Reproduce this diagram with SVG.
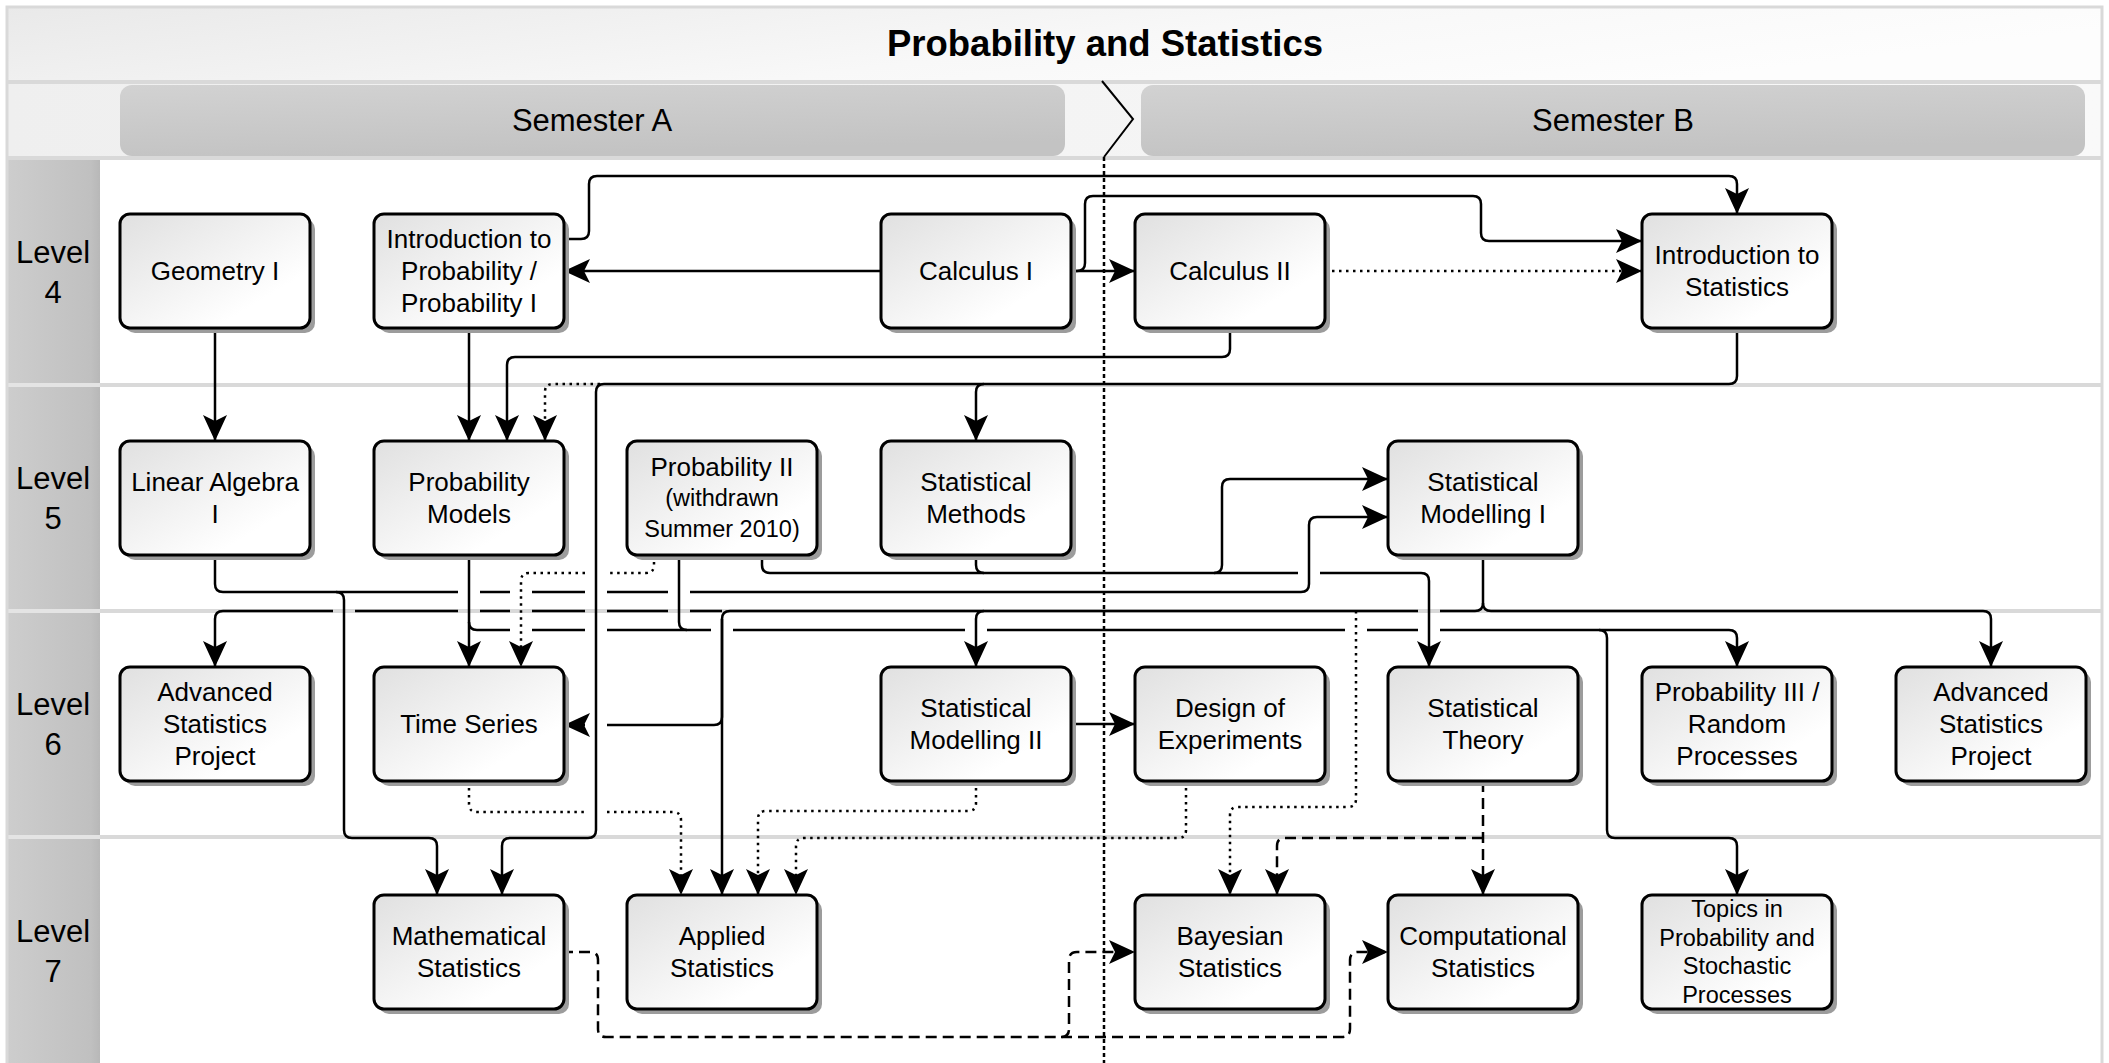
<svg xmlns="http://www.w3.org/2000/svg" width="2109" height="1063" viewBox="0 0 2109 1063">
<defs>
<linearGradient id="gBox" x1="0" y1="0" x2="1" y2="1"><stop offset="0" stop-color="#e0e0e0"/><stop offset="0.75" stop-color="#ffffff"/></linearGradient>
<linearGradient id="gTitle" x1="0" y1="0" x2="1" y2="0.3"><stop offset="0" stop-color="#e9e9e9"/><stop offset="0.6" stop-color="#f8f8f8"/><stop offset="1" stop-color="#fdfdfd"/></linearGradient>
<linearGradient id="gSemRow" x1="0" y1="0" x2="1" y2="0"><stop offset="0" stop-color="#efefef"/><stop offset="1" stop-color="#f9f9f9"/></linearGradient>
<linearGradient id="gSem" x1="0" y1="0" x2="0.3" y2="1"><stop offset="0" stop-color="#d2d2d2"/><stop offset="1" stop-color="#c3c3c3"/></linearGradient>
<linearGradient id="gLvl" x1="0" y1="0" x2="1" y2="0"><stop offset="0" stop-color="#cdcdcd"/><stop offset="0.9" stop-color="#c0c0c0"/><stop offset="1" stop-color="#b8b8b8"/></linearGradient>
<marker id="arr" markerUnits="userSpaceOnUse" markerWidth="28" markerHeight="28" viewBox="0 -14 28 28" refX="26" refY="0" orient="auto"><path d="M26,0 L0,-12 L6,0 L0,12 Z" fill="#000"/></marker>
</defs>
<style>
.box{fill:url(#gBox);stroke:#000;stroke-width:3}
.sh{fill:#9c9c9c}
.t{font-family:"Liberation Sans",Arial,sans-serif;font-size:26px;text-anchor:middle;fill:#000}
.sm{font-size:23.5px}
.lv{font-family:"Liberation Sans",Arial,sans-serif;font-size:31px;text-anchor:middle;fill:#000}
.sep{stroke:#d9d9d9;stroke-width:4;fill:none}
.c{fill:none;stroke:#000;stroke-width:2.5}
.a{marker-end:url(#arr)}
.dot{stroke-dasharray:2.5 4.5}
.dash{stroke-dasharray:11 6}
</style>
<rect x="0" y="0" width="2109" height="1063" fill="#fff"/>
<g id="frame">
<rect x="7" y="7" width="2095" height="75" fill="url(#gTitle)"/>
<rect x="7" y="83" width="2095" height="75" fill="url(#gSemRow)"/>
<rect x="120" y="85" width="945" height="71" rx="12" fill="url(#gSem)"/>
<rect x="1141" y="85" width="944" height="71" rx="12" fill="url(#gSem)"/>
<rect x="7" y="159" width="93" height="225" fill="url(#gLvl)"/>
<rect x="7" y="387" width="93" height="222" fill="url(#gLvl)"/>
<rect x="7" y="613" width="93" height="222" fill="url(#gLvl)"/>
<rect x="7" y="839" width="93" height="224" fill="url(#gLvl)"/>
<path class="sep" d="M7,82 H2102 M7,158 H2102 M100,385 H2102 M100,611 H2102 M100,837 H2102"/>
<path d="M7,385 H100 M7,611 H100 M7,837 H100" stroke="#e4e4e4" stroke-width="4"/>
<rect x="7" y="7" width="2095" height="1060" fill="none" stroke="#d9d9d9" stroke-width="3"/>
<text x="1105" y="56" font-family="Liberation Sans,Arial,sans-serif" font-size="36.5" font-weight="bold" text-anchor="middle">Probability and Statistics</text>
<text class="lv" x="592" y="131">Semester A</text>
<text class="lv" x="1613" y="131">Semester B</text>
<text class="lv"><tspan x="53" y="263">Level</tspan><tspan x="53" y="303">4</tspan></text>
<text class="lv"><tspan x="53" y="489">Level</tspan><tspan x="53" y="529">5</tspan></text>
<text class="lv"><tspan x="53" y="715">Level</tspan><tspan x="53" y="755">6</tspan></text>
<text class="lv"><tspan x="53" y="942">Level</tspan><tspan x="53" y="982">7</tspan></text>
<path d="M1102,81 L1133,119 L1104,157" fill="none" stroke="#000" stroke-width="2"/>
<path d="M1104,157 V1063" fill="none" stroke="#000" stroke-width="2.5" stroke-dasharray="4 3"/>
</g>
<g id="connectors">
<path class="c a" d="M215,328 V441"/>
<path class="c a" d="M469,328 V441"/>
<path class="c a" d="M881,271 H564"/>
<path class="c a" d="M1071,271 H1135"/>
<path class="c a" d="M1071,271 H1077 Q1085,271 1085,263 V204 Q1085,196 1093,196 H1473 Q1481,196 1481,204 V233 Q1481,241 1489,241 H1642"/>
<path class="c a" d="M564,239 H581 Q589,239 589,231 V184 Q589,176 597,176 H1729 Q1737,176 1737,184 V214"/>
<path class="c a dot" d="M1325,271 H1642"/>
<path class="c a" d="M1230,328 V349 Q1230,357 1222,357 H515 Q507,357 507,365 V441"/>
<path class="c a dot" d="M600,384 H553 Q545,384 545,392 V441"/>
<path class="c a" d="M1737,328 V376 Q1737,384 1729,384 H984 Q976,384 976,392 V441"/>
<path class="c a" d="M984,384 H604 Q596,384 596,392 V830 Q596,838 588,838 H510 Q502,838 502,846 V895"/>
<path class="c a" d="M215,555 V584 Q215,592 223,592 H336 Q344,592 344,600 V830 Q344,838 352,838 H429 Q437,838 437,846 V895"/>
<path class="c a" d="M336,592 H458 M480,592 H510 M532,592 H585 M607,592 H668 M690,592 H1301 Q1309,592 1309,584 V525 Q1309,517 1317,517 H1388"/>
<path class="c a dot" d="M654,555 V565 Q654,573 646,573 H609 M585,573 H529 Q521,573 521,581 V667"/>
<path class="c a" d="M762,555 V565 Q762,573 770,573 H1214 Q1222,573 1222,565 V487 Q1222,479 1230,479 H1388"/>
<path class="c" d="M976,555 V565 Q976,573 984,573"/>
<path class="c a" d="M1214,573 H1298 M1320,573 H1421 Q1429,573 1429,581 V667"/>
<path class="c a" d="M1483,555 V603 Q1483,611 1475,611 H1440 M1418,611 H984 Q976,611 976,619 V667"/>
<path class="c a" d="M984,611 H730 Q722,611 722,619 V717 Q722,725 714,725 H607 M585,725 H564"/>
<path class="c a" d="M722,619 V895"/>
<path class="c a" d="M722,611 H690 M668,611 H607 M585,611 H532 M510,611 H480 M458,611 H355 M333,611 H223 Q215,611 215,619 V667"/>
<path class="c a" d="M1483,603 Q1483,611 1491,611 H1983 Q1991,611 1991,619 V667"/>
<path class="c a dot" d="M1356,611 V799 Q1356,807 1348,807 H1238 Q1230,807 1230,815 V895"/>
<path class="c a" d="M469,555 V667"/>
<path class="c a" d="M469,622 Q469,630 477,630 H510 M532,630 H585 M607,630 H711 M733,630 H965 M987,630 H1345 M1367,630 H1418 M1440,630 H1729 Q1737,630 1737,638 V667"/>
<path class="c" d="M679,555 V622 Q679,630 687,630"/>
<path class="c a" d="M1599,630 Q1607,630 1607,638 V830 Q1607,838 1615,838 H1729 Q1737,838 1737,846 V895"/>
<path class="c a dot" d="M469,781 V804 Q469,812 477,812 H585 M607,812 H673 Q681,812 681,820 V895"/>
<path class="c a dot" d="M976,781 V803 Q976,811 968,811 H766 Q758,811 758,819 V895"/>
<path class="c a dot" d="M1186,781 V830 Q1186,838 1178,838 H804 Q796,838 796,846 V895"/>
<path class="c a" d="M1071,724 H1135"/>
<path class="c a dash" d="M1483,781 V895"/>
<path class="c a dash" d="M1483,838 H1285 Q1277,838 1277,846 V895"/>
<path class="c a dash" d="M562,952 H590 Q598,952 598,960 V1029 Q598,1037 606,1037 H1061 Q1069,1037 1069,1029 V960 Q1069,952 1077,952 H1135"/>
<path class="c a dash" d="M1061,1037 H1342 Q1350,1037 1350,1029 V960 Q1350,952 1358,952 H1388"/>
</g>
<g id="n-geometry1"><rect class="sh" x="125" y="219" width="190" height="114" rx="10"/><rect class="box" x="120" y="214" width="190" height="114" rx="10"/><text class="t" x="215" y="280">Geometry I</text></g>
<g id="n-introprob"><rect class="sh" x="379" y="219" width="190" height="114" rx="10"/><rect class="box" x="374" y="214" width="190" height="114" rx="10"/><text class="t"><tspan x="469" y="248">Introduction to</tspan><tspan x="469" y="280">Probability /</tspan><tspan x="469" y="312">Probability I</tspan></text></g>
<g id="n-calculus1"><rect class="sh" x="886" y="219" width="190" height="114" rx="10"/><rect class="box" x="881" y="214" width="190" height="114" rx="10"/><text class="t" x="976" y="280">Calculus I</text></g>
<g id="n-calculus2"><rect class="sh" x="1140" y="219" width="190" height="114" rx="10"/><rect class="box" x="1135" y="214" width="190" height="114" rx="10"/><text class="t" x="1230" y="280">Calculus II</text></g>
<g id="n-introstats"><rect class="sh" x="1647" y="219" width="190" height="114" rx="10"/><rect class="box" x="1642" y="214" width="190" height="114" rx="10"/><text class="t"><tspan x="1737" y="264">Introduction to</tspan><tspan x="1737" y="296">Statistics</tspan></text></g>
<g id="n-linalg1"><rect class="sh" x="125" y="446" width="190" height="114" rx="10"/><rect class="box" x="120" y="441" width="190" height="114" rx="10"/><text class="t"><tspan x="215" y="491">Linear Algebra</tspan><tspan x="215" y="523">I</tspan></text></g>
<g id="n-probmodels"><rect class="sh" x="379" y="446" width="190" height="114" rx="10"/><rect class="box" x="374" y="441" width="190" height="114" rx="10"/><text class="t"><tspan x="469" y="491">Probability</tspan><tspan x="469" y="523">Models</tspan></text></g>
<g id="n-prob2"><rect class="sh" x="632" y="446" width="190" height="114" rx="10"/><rect class="box" x="627" y="441" width="190" height="114" rx="10"/><text class="t"><tspan x="722" y="476">Probability II</tspan><tspan class="sm" x="722" y="506">(withdrawn</tspan><tspan class="sm" x="722" y="537">Summer 2010)</tspan></text></g>
<g id="n-statmethods"><rect class="sh" x="886" y="446" width="190" height="114" rx="10"/><rect class="box" x="881" y="441" width="190" height="114" rx="10"/><text class="t"><tspan x="976" y="491">Statistical</tspan><tspan x="976" y="523">Methods</tspan></text></g>
<g id="n-statmod1"><rect class="sh" x="1393" y="446" width="190" height="114" rx="10"/><rect class="box" x="1388" y="441" width="190" height="114" rx="10"/><text class="t"><tspan x="1483" y="491">Statistical</tspan><tspan x="1483" y="523">Modelling I</tspan></text></g>
<g id="n-advproj-a"><rect class="sh" x="125" y="672" width="190" height="114" rx="10"/><rect class="box" x="120" y="667" width="190" height="114" rx="10"/><text class="t"><tspan x="215" y="701">Advanced</tspan><tspan x="215" y="733">Statistics</tspan><tspan x="215" y="765">Project</tspan></text></g>
<g id="n-timeseries"><rect class="sh" x="379" y="672" width="190" height="114" rx="10"/><rect class="box" x="374" y="667" width="190" height="114" rx="10"/><text class="t" x="469" y="733">Time Series</text></g>
<g id="n-statmod2"><rect class="sh" x="886" y="672" width="190" height="114" rx="10"/><rect class="box" x="881" y="667" width="190" height="114" rx="10"/><text class="t"><tspan x="976" y="717">Statistical</tspan><tspan x="976" y="749">Modelling II</tspan></text></g>
<g id="n-design"><rect class="sh" x="1140" y="672" width="190" height="114" rx="10"/><rect class="box" x="1135" y="667" width="190" height="114" rx="10"/><text class="t"><tspan x="1230" y="717">Design of</tspan><tspan x="1230" y="749">Experiments</tspan></text></g>
<g id="n-stattheory"><rect class="sh" x="1393" y="672" width="190" height="114" rx="10"/><rect class="box" x="1388" y="667" width="190" height="114" rx="10"/><text class="t"><tspan x="1483" y="717">Statistical</tspan><tspan x="1483" y="749">Theory</tspan></text></g>
<g id="n-prob3"><rect class="sh" x="1647" y="672" width="190" height="114" rx="10"/><rect class="box" x="1642" y="667" width="190" height="114" rx="10"/><text class="t"><tspan x="1737" y="701">Probability III /</tspan><tspan x="1737" y="733">Random</tspan><tspan x="1737" y="765">Processes</tspan></text></g>
<g id="n-advproj-b"><rect class="sh" x="1901" y="672" width="190" height="114" rx="10"/><rect class="box" x="1896" y="667" width="190" height="114" rx="10"/><text class="t"><tspan x="1991" y="701">Advanced</tspan><tspan x="1991" y="733">Statistics</tspan><tspan x="1991" y="765">Project</tspan></text></g>
<g id="n-mathstats"><rect class="sh" x="379" y="900" width="190" height="114" rx="10"/><rect class="box" x="374" y="895" width="190" height="114" rx="10"/><text class="t"><tspan x="469" y="945">Mathematical</tspan><tspan x="469" y="977">Statistics</tspan></text></g>
<g id="n-applied"><rect class="sh" x="632" y="900" width="190" height="114" rx="10"/><rect class="box" x="627" y="895" width="190" height="114" rx="10"/><text class="t"><tspan x="722" y="945">Applied</tspan><tspan x="722" y="977">Statistics</tspan></text></g>
<g id="n-bayesian"><rect class="sh" x="1140" y="900" width="190" height="114" rx="10"/><rect class="box" x="1135" y="895" width="190" height="114" rx="10"/><text class="t"><tspan x="1230" y="945">Bayesian</tspan><tspan x="1230" y="977">Statistics</tspan></text></g>
<g id="n-computational"><rect class="sh" x="1393" y="900" width="190" height="114" rx="10"/><rect class="box" x="1388" y="895" width="190" height="114" rx="10"/><text class="t"><tspan x="1483" y="945">Computational</tspan><tspan x="1483" y="977">Statistics</tspan></text></g>
<g id="n-topics"><rect class="sh" x="1647" y="900" width="190" height="114" rx="10"/><rect class="box" x="1642" y="895" width="190" height="114" rx="10"/><text class="t sm"><tspan x="1737" y="917">Topics in</tspan><tspan x="1737" y="946">Probability and</tspan><tspan x="1737" y="974">Stochastic</tspan><tspan x="1737" y="1003">Processes</tspan></text></g>
</svg>
